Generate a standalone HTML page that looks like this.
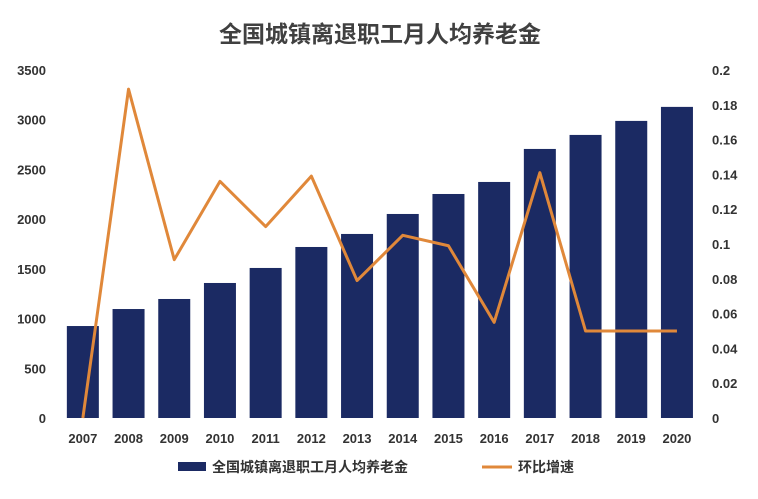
<!DOCTYPE html>
<html><head><meta charset="utf-8"><style>
body{margin:0;background:#fff;width:758px;height:494px;overflow:hidden}
text{font-family:"Liberation Sans","Noto Sans CJK SC",sans-serif}
</style></head><body>
<svg id="chart" width="758" height="494" xmlns="http://www.w3.org/2000/svg">
<text x="380" y="42" text-anchor="middle" font-size="23" font-weight="bold" fill="#404040">全国城镇离退职工月人均养老金</text>
<g id="axes"></g><g id="bars"></g><g id="line"></g>
<g>
<rect x="178" y="462" width="28" height="9" fill="#1b2a63"/>
<text x="212" y="472" font-size="14" font-weight="bold" fill="#333">全国城镇离退职工月人均养老金</text>
<line x1="482" y1="467" x2="512" y2="467" stroke="#e0883a" stroke-width="3"/>
<text x="518" y="472" font-size="14" font-weight="bold" fill="#333">环比增速</text>
</g>
</svg>
<script>
const categories=["2007","2008","2009","2010","2011","2012","2013","2014","2015","2016","2017","2018","2019","2020"];
const pension=[925,1096,1197,1358,1509,1720,1851,2052,2253,2374,2706,2847,2988,3129];
const growth=[0,0.189,0.091,0.136,0.110,0.139,0.079,0.105,0.099,0.055,0.141,0.05,0.05,0.05];
const leftTicks=[0,500,1000,1500,2000,2500,3000,3500];
const rightTicks=["0","0.02","0.04","0.06","0.08","0.1","0.12","0.14","0.16","0.18","0.2"];
const NS="http://www.w3.org/2000/svg";
const plotTop=70,plotBottom=418,x0=60,step=45.7;
const yL=v=>plotBottom-v/3500*(plotBottom-plotTop);
const yR=v=>plotBottom-v/0.2*(plotBottom-plotTop);
const xC=i=>x0+step/2+i*step;
function mk(tag,attrs,parent){const e=document.createElementNS(NS,tag);for(const k in attrs)e.setAttribute(k,attrs[k]);parent.appendChild(e);return e;}
const axes=document.getElementById('axes'),bars=document.getElementById('bars'),line=document.getElementById('line');
leftTicks.forEach(t=>{const e=mk('text',{x:46,y:yL(t)+5,'text-anchor':'end','font-size':13,'font-weight':'bold',fill:'#333'},axes);e.textContent=t;

});
rightTicks.forEach(t=>{const e=mk('text',{x:712,y:yR(parseFloat(t))+5,'font-size':13,'font-weight':'bold',fill:'#333'},axes);e.textContent=t;

});
categories.forEach((c,i)=>{const e=mk('text',{x:xC(i),y:443,'text-anchor':'middle','font-size':13,'font-weight':'bold',fill:'#333'},axes);e.textContent=c;

});
pension.forEach((v,i)=>{const r=mk('rect',{x:xC(i)-16,y:yL(v),width:32,height:plotBottom-yL(v),fill:'#1b2a63'},bars);

});
const p=mk('polyline',{points:growth.map((v,i)=>xC(i)+','+yR(v)).join(' '),fill:'none',stroke:'#e0883a','stroke-width':3,'stroke-linejoin':'round'},line);


</script>
</body></html>
